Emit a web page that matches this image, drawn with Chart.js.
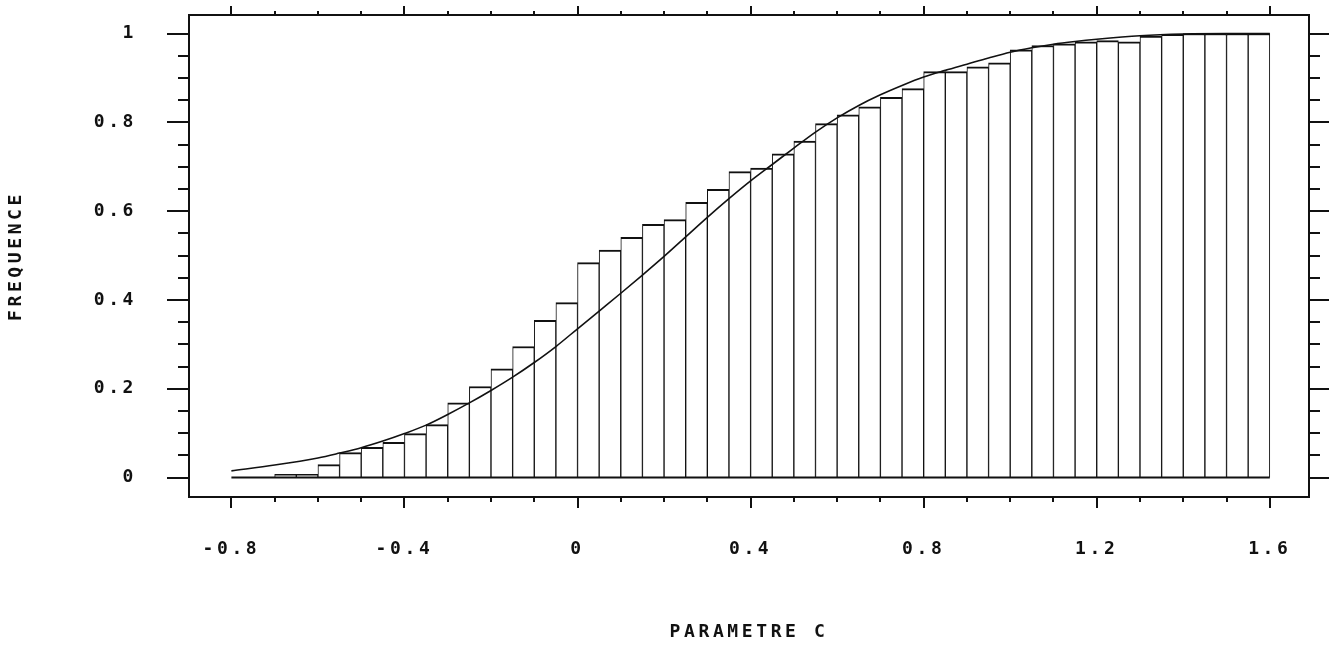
<!DOCTYPE html>
<html>
<head>
<meta charset="utf-8">
<script src="https://cdn.jsdelivr.net/npm/chart.js@4/dist/chart.umd.min.js"></script>
<style>
  body { margin: 0; background: #fff; }
  #wrap { width: 1330px; height: 647px; }
</style>
</head>
<body>
<div id="wrap"><canvas id="cdfChart"></canvas></div>
<script>
// bornes inferieures des classes (largeur 0.05)
const binStarts = [-0.8, -0.75, -0.7, -0.65, -0.6, -0.55, -0.5, -0.45, -0.4, -0.35, -0.3, -0.25,
  -0.2, -0.15, -0.1, -0.05, 0, 0.05, 0.1, 0.15, 0.2, 0.25, 0.3, 0.35,
  0.4, 0.45, 0.5, 0.55, 0.6, 0.65, 0.7, 0.75, 0.8, 0.85, 0.9, 0.95,
  1.0, 1.05, 1.1, 1.15, 1.2, 1.25, 1.3, 1.35, 1.4, 1.45, 1.5, 1.55];
const binWidth = 0.05;
// frequences cumulees observees
const freqObs = [0, 0, 0.007, 0.007, 0.029, 0.056, 0.068, 0.079, 0.099, 0.119, 0.168, 0.205,
  0.245, 0.295, 0.354, 0.394, 0.484, 0.512, 0.541, 0.570, 0.581, 0.620, 0.649, 0.689,
  0.697, 0.729, 0.758, 0.797, 0.817, 0.835, 0.856, 0.876, 0.914, 0.914, 0.925, 0.934,
  0.963, 0.973, 0.977, 0.981, 0.984, 0.981, 0.994, 0.998, 1.0, 1.0, 1.0, 1.0];
// courbe theorique
const curveX = [-0.8, -0.7, -0.6, -0.55, -0.5, -0.45, -0.4, -0.35, -0.3, -0.25, -0.2, -0.15,
  -0.1, -0.05, 0, 0.05, 0.1, 0.15, 0.2, 0.25, 0.3, 0.35, 0.4, 0.45, 0.5, 0.55, 0.6, 0.65,
  0.7, 0.75, 0.8, 0.85, 0.9, 0.95, 1.0, 1.05, 1.1, 1.15, 1.2, 1.3, 1.4, 1.5, 1.6];
const curveY = [0.015, 0.028, 0.044, 0.055, 0.067, 0.082, 0.099, 0.118, 0.142, 0.168, 0.196, 0.226,
  0.259, 0.295, 0.335, 0.375, 0.415, 0.456, 0.498, 0.542, 0.586, 0.628, 0.668, 0.705, 0.742, 0.778, 0.810, 0.838,
  0.862, 0.883, 0.902, 0.917, 0.931, 0.945, 0.958, 0.968, 0.976, 0.982, 0.987, 0.995, 0.999, 1.0, 1.0];

const xTickValues = [-0.8, -0.4, 0, 0.4, 0.8, 1.2, 1.6];
const xTickLabels = ['-0.8', '-0.4', '0', '0.4', '0.8', '1.2', '1.6'];
const yTickValues = [0, 0.2, 0.4, 0.6, 0.8, 1];
const yTickLabels = ['0', '0.2', '0.4', '0.6', '0.8', '1'];
const xMinorPerMajor = 4;   // graduations tous les 0.1
const yMinorPerMajor = 4;   // graduations tous les 0.05

const ink = '#111';
const X_MIN = -0.898, X_MAX = 1.6906;
const Y_MIN = -0.0439, Y_MAX = 1.0417;

Chart.defaults.font.family = "'DejaVu Sans Mono', monospace";
Chart.defaults.font.size = 18;
Chart.defaults.font.weight = 'bold';
Chart.defaults.color = ink;

// petits traits de graduation (majeurs + mineurs) sur les quatre cotes
function subTicks(values, n) {
  const out = [];
  values.forEach((v, i) => {
    out.push({ v, major: true });
    if (i < values.length - 1) {
      const step = (values[i + 1] - v) / n;
      for (let k = 1; k < n; k++) out.push({ v: v + k * step, major: false });
    }
  });
  return out;
}

const tickMarks = {
  id: 'tickMarks',
  beforeDraw(chart) {
    chart.ctx.letterSpacing = '3.6px';
  },
  afterDraw(chart) {
    const { ctx, chartArea: a, scales } = chart;
    ctx.save();
    ctx.strokeStyle = ink;
    ctx.lineWidth = 2;
    ctx.beginPath();
    subTicks(yTickValues, yMinorPerMajor).forEach(t => {
      const py = Math.round(scales.y.getPixelForValue(t.v));
      ctx.moveTo(a.left - (t.major ? 22 : 11), py);
      ctx.lineTo(a.left, py);
      ctx.moveTo(a.right, py);
      ctx.lineTo(a.right + (t.major ? 20 : 11), py);
    });
    subTicks(xTickValues, xMinorPerMajor).forEach(t => {
      const px = Math.round(scales.x.getPixelForValue(t.v));
      ctx.moveTo(px, a.bottom);
      ctx.lineTo(px, a.bottom + (t.major ? 11 : 5));
      ctx.moveTo(px, a.top);
      ctx.lineTo(px, a.top - (t.major ? 9 : 4));
    });
    ctx.stroke();
    ctx.restore();
  }
};

// taille fixe des axes pour caler le cadre
function fixSize(s, size) {
  if (s.isHorizontal()) s.height = size; else s.width = size;
  s.paddingTop = s.paddingBottom = s.paddingLeft = s.paddingRight = 0;
}

const sideAxis = (pos, size) => ({
  type: 'linear',
  position: pos,
  offset: false,
  grid: { display: false, drawTicks: false },
  border: { display: true, color: ink, width: 2 },
  ticks: { display: false },
  afterFit: (s) => fixSize(s, size)
});

const ctx = document.getElementById('cdfChart').getContext('2d');
new Chart(ctx, {
  type: 'bar',
  data: {
    datasets: [
      {
        type: 'line',
        label: 'theorique',
        data: curveX.map((x, i) => ({ x, y: curveY[i] })),
        borderColor: ink,
        borderWidth: 1.6,
        pointRadius: 0,
        cubicInterpolationMode: 'monotone',
        order: 0
      },
      {
        type: 'line',
        label: 'base',
        data: [{ x: binStarts[0], y: 0 }, { x: binStarts[binStarts.length - 1] + binWidth, y: 0 }],
        borderColor: ink,
        borderWidth: 2,
        pointRadius: 0,
        order: 1
      },
      {
        type: 'bar',
        label: 'observee',
        data: binStarts.map((b, i) => ({ x: b + binWidth / 2, y: freqObs[i] })),
        backgroundColor: '#fff',
        borderColor: ink,
        borderWidth: { top: 2, left: 1, right: 1, bottom: 0 },
        borderSkipped: 'start',
        barPercentage: 1,
        categoryPercentage: 1,
        order: 2
      }
    ]
  },
  options: {
    responsive: true,
    maintainAspectRatio: false,
    animation: false,
    layout: { padding: 0 },
    plugins: { legend: { display: false }, tooltip: { enabled: false } },
    scales: {
      x: {
        type: 'linear',
        position: 'bottom',
        min: X_MIN, max: X_MAX,
        offset: false,
        grid: { display: false, drawTicks: false, offset: false },
        border: { display: true, color: ink, width: 2 },
        afterBuildTicks: (s) => { s.ticks = xTickValues.map(v => ({ value: v })); },
        ticks: {
          autoSkip: false, maxRotation: 0, padding: 42,
          callback: (v, i) => xTickLabels[i]
        },
        title: { display: true, text: 'PARAMETRE C', padding: { top: 0, bottom: 4 } },
        afterFit: (s) => fixSize(s, 150)
      },
      xTop: Object.assign(sideAxis('top', 15), { min: X_MIN, max: X_MAX }),
      y: {
        type: 'linear',
        position: 'left',
        min: Y_MIN, max: Y_MAX,
        grid: { display: false, drawTicks: false },
        border: { display: true, color: ink, width: 2 },
        afterBuildTicks: (s) => { s.ticks = yTickValues.map(v => ({ value: v })); },
        ticks: {
          autoSkip: false, padding: 52,
          callback: (v, i) => yTickLabels[i]
        },
        title: { display: true, text: 'FREQUENCE', padding: { top: 6, bottom: 0 } },
        afterFit: (s) => fixSize(s, 189)
      },
      yRight: Object.assign(sideAxis('right', 21), { min: Y_MIN, max: Y_MAX })
    }
  },
  plugins: [tickMarks]
});
</script>
</body>
</html>
